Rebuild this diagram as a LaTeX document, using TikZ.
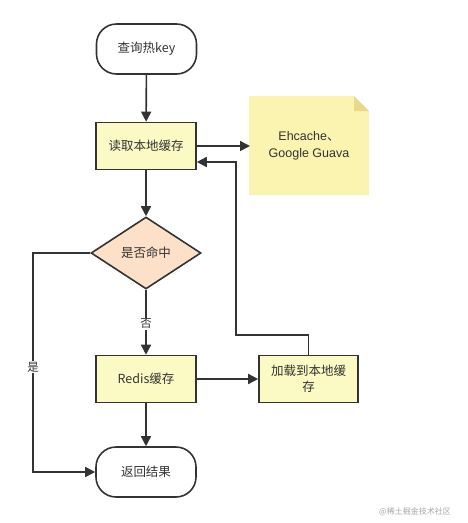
\documentclass[tikz,border=0pt]{standalone}
\usepackage{fontspec}
\setmainfont{Liberation Sans}
\newfontfamily\cjk{Noto Sans CJK SC}
\usetikzlibrary{shapes.geometric,arrows.meta}
\definecolor{linec}{HTML}{333333}
\definecolor{boxy}{HTML}{FBFAC4}
\definecolor{notey}{HTML}{FBF3B0}
\definecolor{notefold}{HTML}{E8D98A}
\definecolor{peach}{HTML}{FCE0C8}
\definecolor{txt}{HTML}{333333}
\begin{document}
\begin{tikzpicture}[x=1pt,y=-1pt,
  every node/.style={font=\cjk\fontsize{12.5}{16}\selectfont, text=txt},
  stadium/.style={draw=linec, line width=1.6pt, rounded corners=20pt, fill=white, minimum width=100pt, minimum height=50pt},
  procbox/.style={draw=linec, line width=1.6pt, fill=boxy, minimum width=100pt, minimum height=47pt},
  decide/.style={draw=linec, line width=1.6pt, fill=peach, diamond, aspect=1.53, minimum width=110pt, minimum height=72pt, inner sep=0pt},
  conn/.style={draw=linec, line width=1.6pt, -{Triangle[length=10pt,width=10pt]}},
  lbl/.style={fill=white, inner sep=1pt, font=\cjk\fontsize{11.5}{14}\selectfont}
]
\useasboundingbox (0,0) rectangle (467,523);
\node[stadium] (q) at (146.5,49) {查询热key};
\node[procbox] (r) at (146,146) {读取本地缓存};
% note
\fill[notey] (249,96) -- (354,96) -- (369,111) -- (369,195) -- (249,195) -- cycle;
\fill[notefold] (354,96) -- (369,111) -- (354,111) -- cycle;
\node[font=\fontsize{12.5}{17}\selectfont, align=center] (n) at (309,146) {Ehcache{\cjk 、}\\Google Guava};
\coordinate (nl) at (250,146);
\node[decide] (d) at (146,253) {是否命中};
\node[procbox] (rd) at (146,379) {Redis{\cjk 缓存}};
\node[procbox, align=center, text width=90pt, minimum width=99pt] (ld) at (308.5,379) {加载到本地缓\\存};
\node[font=\cjk\fontsize{8}{10}\selectfont, text=black!35] (wm) at (415,512) {@稀土掘金技术社区};

\node[stadium] (res) at (146,472) {返回结果};
\draw[conn] (q) -- (r);
\draw[conn] (r.east) -- (nl);
\draw[conn] (r) -- (d);
\draw[conn] (d) -- node[lbl, pos=0.52] (no) {否} (rd);
\draw[conn] (rd) -- (res);
\draw[conn] (rd) -- (ld);
\draw[conn] (d.west) -- (33,253) -- node[lbl, pos=0.52] (yes) {是} (33,472) -- (res.west);
\draw[conn] (ld.north) -- (308.5,335) -- (236,335) -- (236,162) -- (r.east |- 0,162);
\end{tikzpicture}
\end{document}
